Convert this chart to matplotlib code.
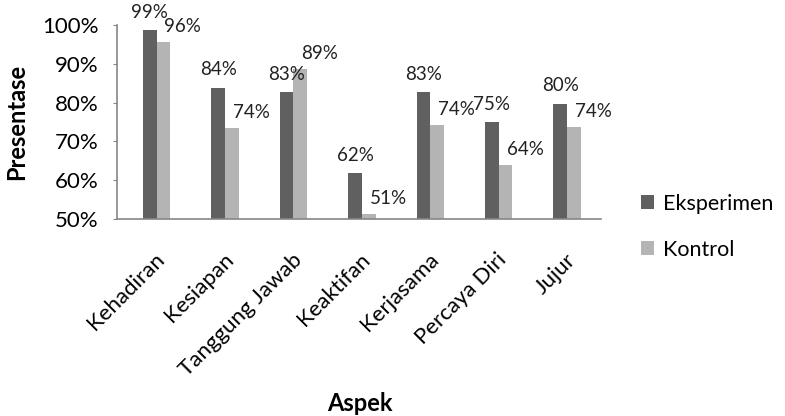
import matplotlib
matplotlib.use("Agg")
import matplotlib.pyplot as plt
import matplotlib.transforms as mtransforms
import numpy as np
from matplotlib.ticker import PercentFormatter

plt.rcParams['font.family'] = ['Lato', 'DejaVu Sans']

aspek = ['Kehadiran', 'Kesiapan', 'Tanggung Jawab', 'Keaktifan',
         'Kerjasama', 'Percaya Diri', 'Jujur']
eksperimen = [98.6, 83.8, 82.6, 61.8, 82.6, 74.9, 79.7]
kontrol = [95.6, 73.5, 88.6, 51.4, 74.2, 63.9, 73.8]

dark = '#606060'
light = '#b4b4b4'

fig = plt.figure(figsize=(7.85, 4.16), dpi=100)
ax = fig.add_axes([0.149, 0.4736, 0.617, 0.4664])

x = np.arange(len(aspek))
w = 0.2
b1 = ax.bar(x - w / 2, eksperimen, w, color=dark, label='Eksperimen')
b2 = ax.bar(x + w / 2, kontrol, w, color=light, label='Kontrol')

for bars, vals, dx, dy in [(b1, eksperimen, 0, 13), (b2, kontrol, 14, 11)]:
    for r, v in zip(bars, vals):
        ax.annotate(f'{round(v)}%', (r.get_x() + r.get_width() / 2, v),
                    xytext=(dx, dy), textcoords='offset points',
                    ha='center', va='center', fontsize=13.5, color='#222222',
                    annotation_clip=False)

ax.set_ylim(50, 100)
ax.set_xlim(-0.58, 6.5)
ax.set_yticks([50, 60, 70, 80, 90, 100])
ax.yaxis.set_major_formatter(PercentFormatter(decimals=0))
ax.set_xticks(x)
ax.set_xticklabels(aspek, rotation=45, ha='right', va='top',
                   rotation_mode='anchor', fontsize=16)
ax.tick_params(axis='x', length=0, pad=22)
shift = mtransforms.ScaledTranslation(-2 / 100, 0, fig.dpi_scale_trans)
for lab in ax.get_xticklabels():
    lab.set_transform(lab.get_transform() + shift)
ax.tick_params(axis='y', labelsize=16, length=3, direction='out',
               color='#868686', pad=10)

for s in ['top', 'right']:
    ax.spines[s].set_visible(False)
for s in ['left', 'bottom']:
    ax.spines[s].set_color('#868686')
    ax.spines[s].set_linewidth(1.2)

ax.set_ylabel('Presentase', fontsize=17, fontweight='bold')
ax.yaxis.set_label_coords(-0.184, 0.5)
fig.text(0.459, 0.03, 'Aspek', fontsize=17, fontweight='bold',
         ha='center', va='center')

fig.legend(handles=[b1, b2], loc='center left', bbox_to_anchor=(0.817, 0.455),
           frameon=False, fontsize=15.5, handlelength=0.6, handleheight=0.6,
           handletextpad=0.4, labelspacing=1.2, borderpad=0, borderaxespad=0)

fig.savefig('out.png', dpi=100)
